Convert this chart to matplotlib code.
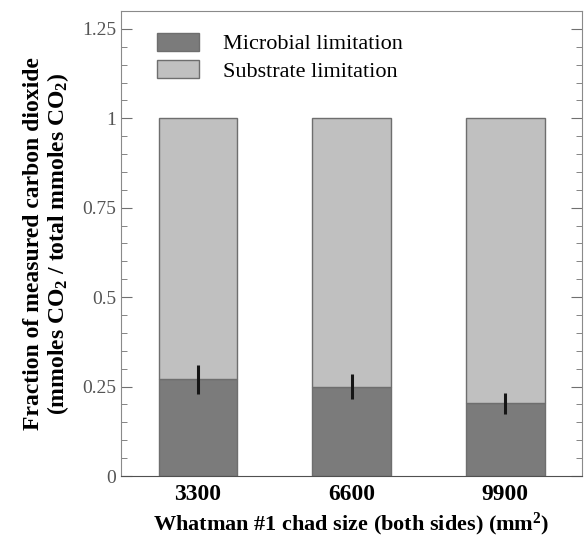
import matplotlib
matplotlib.use('Agg')
import matplotlib.pyplot as plt
from matplotlib.ticker import MultipleLocator, FixedFormatter, FixedLocator

# chad sizes and fractions
sizes = ['3300', '6600', '9900']
microbial = [0.27, 0.25, 0.203]
microbial_err = [0.04, 0.035, 0.03]
substrate = [0.73, 0.75, 0.797]

plt.rcParams['font.family'] = 'Liberation Serif'
plt.rcParams['mathtext.fontset'] = 'custom'
plt.rcParams['mathtext.rm'] = 'Liberation Serif:bold'
plt.rcParams['mathtext.it'] = 'Liberation Serif:bold'
plt.rcParams['mathtext.bf'] = 'Liberation Serif:bold'

fig = plt.figure(figsize=(5.84, 5.38), dpi=100)
ax = fig.add_axes([0.207, 0.1152, 0.79, 0.8644])

x = list(range(len(sizes)))
edge = '#6e6e6e'
ax.bar(x, microbial, width=0.51, color='#7b7b7b', edgecolor=edge, linewidth=1,
       label='Microbial limitation')
ax.bar(x, substrate, width=0.51, bottom=microbial, color='#c0c0c0', edgecolor=edge,
       linewidth=1, label='Substrate limitation')
ax.errorbar(x, microbial, yerr=microbial_err, fmt='none', ecolor='#151515',
            elinewidth=2.2, capsize=0)

ax.set_xlim(-0.5, 2.5)
ax.set_ylim(0, 1.3)
ax.yaxis.set_major_locator(FixedLocator([0, 0.25, 0.5, 0.75, 1, 1.25]))
ax.yaxis.set_major_formatter(FixedFormatter(['0', '0.25', '0.5', '0.75', '1', '1.25']))
ax.yaxis.set_minor_locator(MultipleLocator(0.05))
ax.set_xticks(x)
ax.set_xticklabels(sizes, fontsize=17, fontweight='bold')

ax.tick_params(axis='y', which='both', direction='in', right=True, colors='#707070',
               labelcolor='#555555', labelsize=14)
ax.tick_params(axis='y', which='major', length=8)
ax.tick_params(axis='y', which='minor', length=4)
ax.tick_params(axis='x', length=0, pad=6)
for s in ax.spines.values():
    s.set_color('#8a8a8a')
ax.spines['bottom'].set_color('#505050')

ax.set_xlabel('Whatman #1 chad size (both sides) (mm$^2$)', fontsize=16,
              fontweight='bold', labelpad=4)
ax.set_ylabel('Fraction of measured carbon dioxide\n(mmoles CO$_2$ / total mmoles CO$_2$)',
              fontsize=17, fontweight='bold', labelpad=8, linespacing=1.05)

ax.legend(loc='upper left', bbox_to_anchor=(0.078, 0.953), frameon=False,
          fontsize=16, handlelength=1.9, handleheight=0.86, handletextpad=1.08,
          labelspacing=0.25, borderpad=0, borderaxespad=0)

plt.savefig('out.png', dpi=100)
